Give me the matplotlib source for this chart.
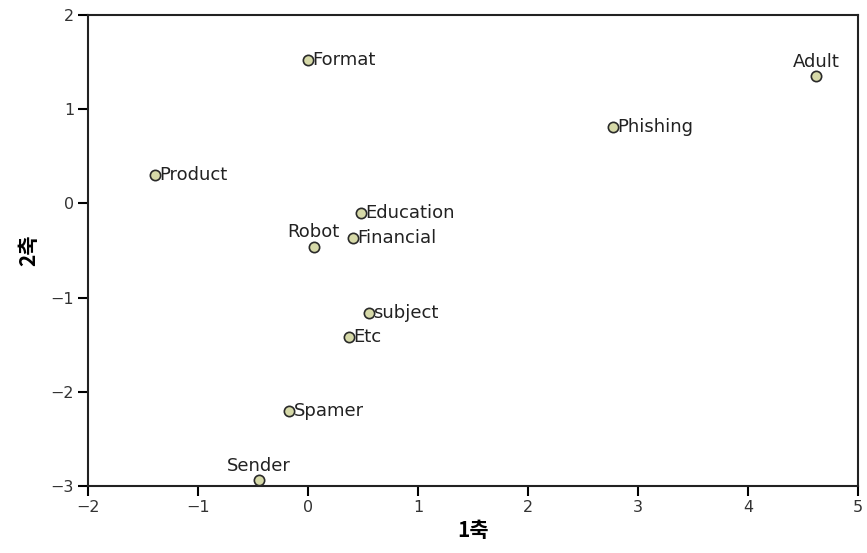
import matplotlib
matplotlib.use("Agg")
import matplotlib.pyplot as plt

plt.rcParams['font.family'] = ['DejaVu Sans', 'Noto Sans CJK KR']

# data
names = ['Format', 'Adult', 'Phishing', 'Product', 'Education', 'Financial',
         'Robot', 'subject', 'Etc', 'Spamer', 'Sender']
dim1 = [0.00, 4.62, 2.77, -1.39, 0.48, 0.41, 0.05, 0.55, 0.37, -0.17, -0.45]
dim2 = [1.52, 1.35, 0.81, 0.30, -0.10, -0.37, -0.46, -1.16, -1.42, -2.20, -2.94]
above = ['Adult', 'Robot', 'Sender']

fig = plt.figure(figsize=(8.67, 5.53), dpi=100)
ax = fig.add_axes([88/867, 1-486/553, 770/867, 471/553])

ax.scatter(dim1, dim2, s=55, facecolor='#d6d9a8', edgecolor='#2a2a2a',
           linewidth=1.2, zorder=3)

for n, x, y in zip(names, dim1, dim2):
    if n in above:
        ax.annotate(n, (x, y), xytext=(0, 4), textcoords='offset points',
                    ha='center', va='bottom', fontsize=13, color='#222222')
    else:
        ax.annotate(n, (x, y), xytext=(3, 0), textcoords='offset points',
                    ha='left', va='center', fontsize=13, color='#222222')

ax.set_xlim(-2, 5)
ax.set_ylim(-3, 2)
ax.set_xticks(range(-2, 6))
ax.set_yticks(range(-3, 3))
ax.tick_params(direction='out', length=7, width=1.5, labelsize=11.5, pad=3,
               labelcolor='#333333')
for s in ax.spines.values():
    s.set_linewidth(1.5)
    s.set_color('#222222')

ax.set_xlabel('1축', fontsize=15, fontweight='bold', labelpad=4, family='Noto Sans CJK KR')
ax.set_ylabel('2축', fontsize=15, fontweight='bold', labelpad=8, family='Noto Sans CJK KR')

fig.savefig('out.png', dpi=100)
